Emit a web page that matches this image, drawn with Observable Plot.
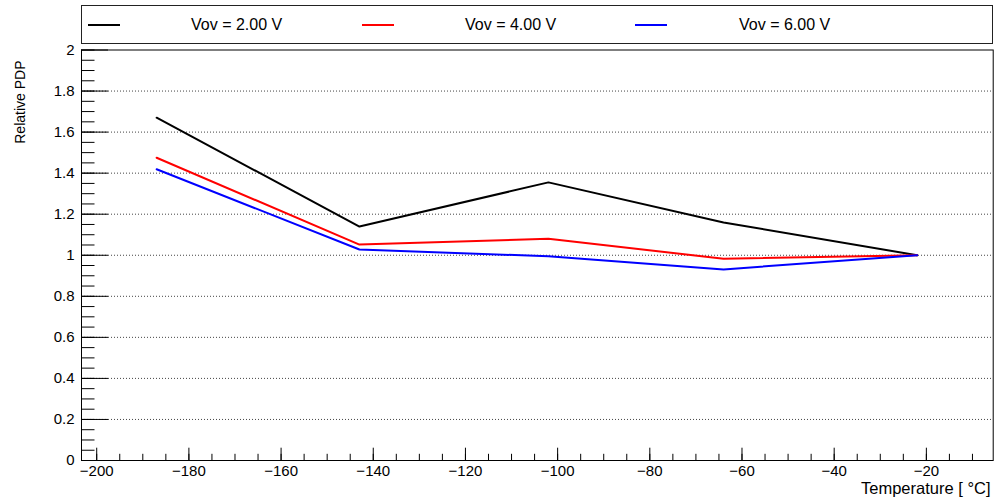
<!DOCTYPE html>
<html><head><meta charset="utf-8">
<script src="https://cdn.jsdelivr.net/npm/d3@7"></script>
<script src="https://cdn.jsdelivr.net/npm/@observablehq/plot@0.6"></script>
<style>
body{margin:0;background:#fff;font-family:"Liberation Sans",Arial,Helvetica,sans-serif;}
#wrap{position:relative;width:994px;height:500px;}
#legend{position:absolute;left:81px;top:5px;width:912px;height:39px;box-sizing:border-box;border:1px solid #222;background:#fff;}
.sw{position:absolute;height:2px;width:32px;top:17.7px;}
.lt{position:absolute;top:0;height:37px;line-height:37px;font-size:16px;color:#000;white-space:nowrap;}
</style>
</head><body>
<div id="wrap"><div id="chart"></div><div id="legend"></div></div>
<script>
const temperature = [-187, -143, -102, -64, -22];
const vov2 = [1.67, 1.14, 1.355, 1.16, 1.0];
const vov4 = [1.475, 1.052, 1.08, 0.983, 1.0];
const vov6 = [1.419, 1.028, 0.995, 0.931, 1.0];
const seriesNames = ["Vov = 2.00 V", "Vov = 4.00 V", "Vov = 6.00 V"];
const seriesColors = ["#000000", "#ff0000", "#0000ff"];
const yTicks = [0, 0.2, 0.4, 0.6, 0.8, 1, 1.2, 1.4, 1.6, 1.8, 2];
const xTicks = [-200, -180, -160, -140, -120, -100, -80, -60, -40, -20];
const yTitle = "Relative PDP";
const xTitle = "Temperature [ °C]";

const rows = [];
[vov2, vov4, vov6].forEach((vals, i) => vals.forEach((v, j) => rows.push({t: temperature[j], pdp: v, s: seriesNames[i]})));

const W = 994, H = 500, mL = 81, mR = 1.3, mT = 49.5, mB = 40;
const fw = W - mL - mR, fh = H - mT - mB;
const yMinor = d3.range(0, 40.5, 1).map(i => +(i * 0.05).toFixed(2));
const xMinor = d3.range(-200, -5, 5);
const yGrid = yTicks.slice(1, -1);

const chart = Plot.plot({
  width: W, height: H,
  marginLeft: mL, marginRight: mR, marginTop: mT, marginBottom: mB,
  x: {domain: [-203.3, -5.5]},
  y: {domain: [0, 2]},
  color: {domain: seriesNames, range: seriesColors},
  style: {fontFamily: '"Liberation Sans", Arial, Helvetica, sans-serif', fontSize: "15px", color: "#000", background: "#fff"},
  marks: [
    Plot.gridY(yGrid, {stroke: "#444", strokeOpacity: 1, strokeDasharray: "1,2"}),
    Plot.tickY(yTicks, {y: d => d, insetRight: fw - 27, stroke: "#000"}),
    Plot.tickY(yMinor, {y: d => d, insetRight: fw - 13.5, stroke: "#000"}),
    Plot.tickX(xTicks, {x: d => d, insetTop: fh - 12.3, stroke: "#000"}),
    Plot.tickX(xMinor, {x: d => d, insetTop: fh - 6.2, stroke: "#000"}),
    Plot.axisY(yTicks, {tickSize: 0, tickPadding: 7, fontSize: 15, label: null, tickFormat: d => String(+(+d).toFixed(1))}),
    Plot.axisX(xTicks, {tickSize: 0, tickPadding: 5, fontSize: 15, label: null}),
    Plot.line(rows, {x: "t", y: "pdp", z: "s", stroke: "s", strokeWidth: 2}),
    Plot.frame({stroke: "#000"}),
    Plot.text([yTitle], {text: d => d, frameAnchor: "top-left", rotate: -90, textAnchor: "end", lineAnchor: "middle", dx: -60.5, dy: 10.5, fontSize: 14, fill: "#000"}),
    Plot.text([xTitle], {text: d => d, frameAnchor: "bottom-right", textAnchor: "end", lineAnchor: "top", dx: -2.7, dy: 22, fontSize: 16.5, fill: "#000"})
  ]
});
document.getElementById("chart").appendChild(chart);

const legend = document.getElementById("legend");
const swLeft = [5.7, 279.7, 553.3];
const txLeft = [109, 383, 657];
seriesNames.forEach((name, i) => {
  const sw = document.createElement("div");
  sw.className = "sw";
  sw.style.left = swLeft[i] + "px";
  sw.style.background = seriesColors[i];
  legend.appendChild(sw);
  const tx = document.createElement("div");
  tx.className = "lt";
  tx.style.left = txLeft[i] + "px";
  tx.textContent = name;
  legend.appendChild(tx);
});
</script>
</body></html>
